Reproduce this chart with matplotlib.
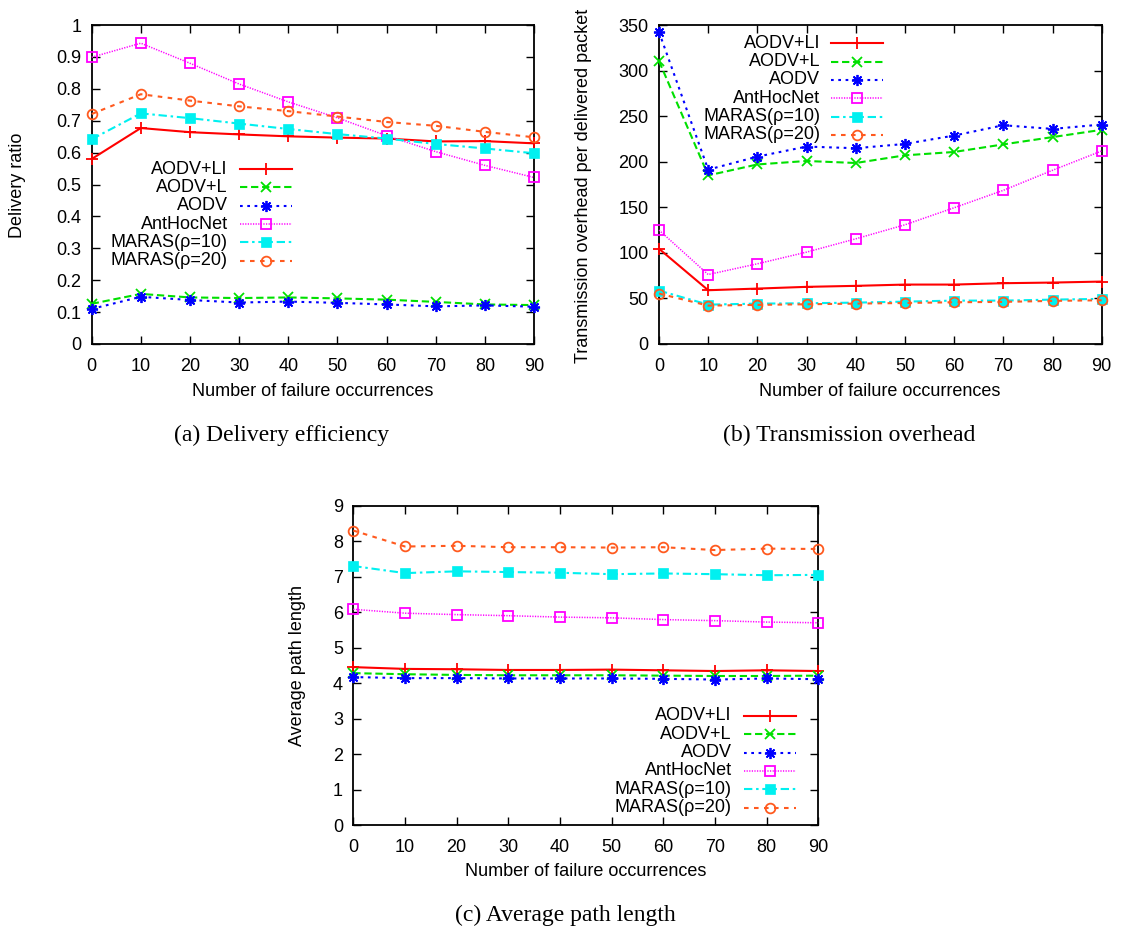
import numpy as np
import matplotlib
matplotlib.use("Agg")
import matplotlib.pyplot as plt

plt.rcParams['font.family'] = ['Liberation Sans', 'DejaVu Sans']

failures = [0, 10, 20, 30, 40, 50, 60, 70, 80, 90]
names = ["AODV+LI", "AODV+L", "AODV", "AntHocNet", "MARAS(\u03c1=10)", "MARAS(\u03c1=20)"]

# delivery ratio
dr_li = [0.580, 0.677, 0.664, 0.657, 0.651, 0.647, 0.644, 0.635, 0.636, 0.629]
dr_l = [0.126, 0.157, 0.146, 0.144, 0.146, 0.143, 0.139, 0.132, 0.124, 0.122]
dr_aodv = [0.110, 0.148, 0.138, 0.130, 0.133, 0.129, 0.124, 0.118, 0.121, 0.117]
dr_ant = [0.899, 0.943, 0.880, 0.815, 0.759, 0.709, 0.653, 0.603, 0.560, 0.522]
dr_m10 = [0.642, 0.723, 0.708, 0.691, 0.674, 0.658, 0.644, 0.627, 0.613, 0.598]
dr_m20 = [0.721, 0.783, 0.763, 0.745, 0.730, 0.713, 0.696, 0.684, 0.665, 0.648]

# transmission overhead per delivered packet
oh_li = [104.5, 59.0, 60.8, 62.7, 63.8, 65.2, 65.2, 66.7, 67.4, 68.5]
oh_l = [310.4, 185.0, 197.0, 200.8, 198.6, 207.0, 210.7, 219.0, 227.0, 235.0]
oh_aodv = [342.3, 191.3, 205.6, 216.6, 214.8, 219.5, 228.7, 240.0, 236.0, 240.8]
oh_ant = [125.0, 76.2, 88.0, 100.8, 115.4, 130.8, 149.5, 168.6, 190.6, 211.8]
oh_m10 = [58.6, 43.2, 44.3, 44.7, 45.4, 46.5, 47.6, 47.6, 48.7, 49.5]
oh_m20 = [55.3, 42.1, 42.9, 43.6, 44.3, 45.0, 45.8, 46.2, 47.3, 48.0]

# average path length
pl_li = [4.45, 4.40, 4.39, 4.37, 4.37, 4.38, 4.36, 4.34, 4.36, 4.34]
pl_l = [4.28, 4.25, 4.23, 4.22, 4.22, 4.22, 4.21, 4.20, 4.20, 4.21]
pl_aodv = [4.17, 4.14, 4.14, 4.13, 4.13, 4.13, 4.12, 4.10, 4.13, 4.11]
pl_ant = [6.08, 5.97, 5.93, 5.90, 5.86, 5.84, 5.79, 5.76, 5.72, 5.70]
pl_m10 = [7.30, 7.10, 7.15, 7.13, 7.11, 7.07, 7.09, 7.07, 7.04, 7.05]
pl_m20 = [8.30, 7.85, 7.87, 7.83, 7.83, 7.82, 7.83, 7.75, 7.79, 7.78]

# gnuplot-like line styles, one per series
styles = [
    dict(color="#ff0000", ls="-", marker="+", ms=8.5, mew=1.3),
    dict(color="#00e000", dashes=(3.5, 1.8), marker="x", ms=7, mew=1.3),
    dict(color="#0000ff", dashes=(1.3, 2.2), marker=(8, 2, 0), ms=8, mew=1.3),
    dict(color="#ff00ff", dashes=(0.8, 0.9), lw=1.1, marker="s", ms=7, mew=1.3, mfc="none"),
    dict(color="#00f0f0", dashes=(4, 1.8, 1.2, 1.8), marker="s", ms=7, mew=0.5),
    dict(color="#ff5a1f", dashes=(2.2, 2.6), marker="o", ms=7, mew=1.3, mfc="none"),
]

FS = 13
W, H = 1123, 931
fig = plt.figure(figsize=(W / 100, H / 100), dpi=100)


def px_axes(left, top, right, bottom):
    return fig.add_axes([left / W, 1 - bottom / H, (right - left) / W, (bottom - top) / H])


def draw_panel(ax, series, ylim, yticks, ylabels, leg_x, leg_y0):
    for s, ys, st in zip(names, series, styles):
        kw = dict(st)
        lw = kw.pop("lw", 1.5)
        ax.plot(failures, ys, lw=lw, clip_on=False, zorder=3, **kw)
    ax.set_xlim(0, 90)
    ax.set_ylim(*ylim)
    ax.set_xticks(failures)
    ax.set_yticks(yticks)
    ax.set_yticklabels(ylabels)
    ax.tick_params(direction="in", length=6, width=1, top=True, right=True,
                   labelsize=FS, pad=7.5)
    ax.tick_params(axis="x", pad=10)
    for sp in ax.spines.values():
        sp.set_linewidth(1.3)
    # key: label right-aligned, then a short sample with the marker in the middle
    x_txt, x0, x1 = leg_x
    step = 0.0574
    for i, (s, st) in enumerate(zip(names, styles)):
        y = leg_y0 - i * step
        ax.text(x_txt, y, s, transform=ax.transAxes, ha="right", va="center",
                fontsize=FS)
        kw = dict(st)
        lw = kw.pop("lw", 1.5)
        ax.plot([x0, (x0 + x1) / 2, x1], [y, y, y], transform=ax.transAxes,
                lw=lw, markevery=[1], clip_on=False, **kw)


ax_a = px_axes(91.7, 25, 534, 344)
draw_panel(ax_a, [dr_li, dr_l, dr_aodv, dr_ant, dr_m10, dr_m20], (0, 1),
           np.arange(0, 1.01, 0.1),
           ["0", "0.1", "0.2", "0.3", "0.4", "0.5", "0.6", "0.7", "0.8", "0.9", "1"],
           (0.3075, 0.335, 0.452), 0.548)

ax_b = px_axes(659, 25, 1101.7, 344)
draw_panel(ax_b, [oh_li, oh_l, oh_aodv, oh_ant, oh_m10, oh_m20], (0, 350),
           range(0, 351, 50), [str(v) for v in range(0, 351, 50)],
           (0.3637, 0.389, 0.507), 0.9426)

ax_c = px_axes(353.3, 505.7, 818.3, 825)
draw_panel(ax_c, [pl_li, pl_l, pl_aodv, pl_ant, pl_m10, pl_m20], (0, 9),
           range(0, 10), [str(v) for v in range(0, 10)],
           (0.8137, 0.84, 0.9527), 0.3414)


def ftext(x, y, s, **kw):
    fig.text(x / W, 1 - y / H, s, ha="center", va="center", **kw)


ftext(313, 391, "Number of failure occurrences", fontsize=FS)
ftext(880, 391, "Number of failure occurrences", fontsize=FS)
ftext(586, 872, "Number of failure occurrences", fontsize=FS)
ftext(17.5, 185, "Delivery ratio", fontsize=FS, rotation=90)
ftext(584, 186, "Transmission overhead per delivered packet", fontsize=FS, rotation=90)
ftext(298, 665, "Average path length", fontsize=FS, rotation=90)

cap = dict(fontsize=17, family=["Liberation Serif", "DejaVu Serif"])
ftext(281.5, 435, "(a) Delivery efficiency", **cap)
ftext(849, 435, "(b) Transmission overhead", **cap)
ftext(565, 915, "(c) Average path length", **cap)

fig.savefig("out.png", dpi=100)
